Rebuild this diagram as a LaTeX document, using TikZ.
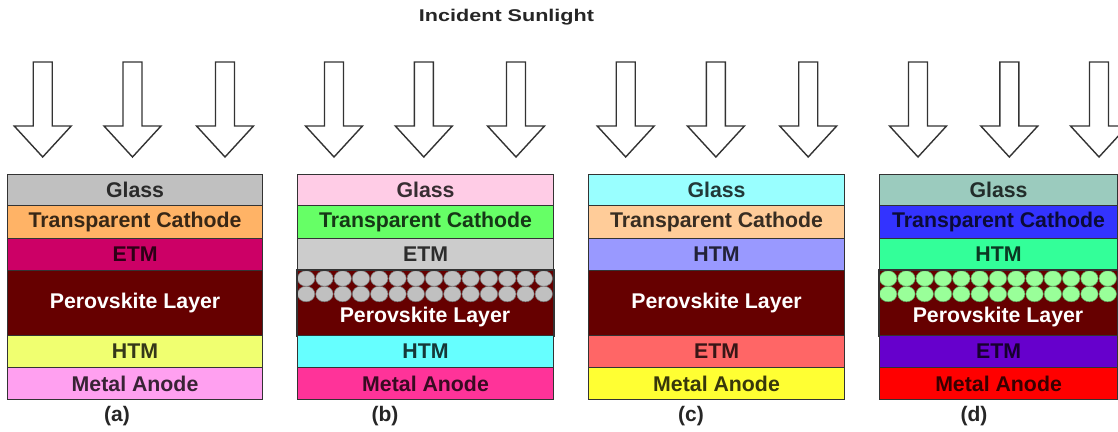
\documentclass[tikz,border=0pt]{standalone}
\usepackage{fontspec}
\setmainfont{Liberation Sans}
\definecolor{linec}{HTML}{333333}
\definecolor{aG}{HTML}{C0C0C0}\definecolor{aT}{HTML}{FFB366}\definecolor{aE}{HTML}{CC0066}
\definecolor{aH}{HTML}{F0FF70}\definecolor{aM}{HTML}{FFA0F0}
\definecolor{bG}{HTML}{FFCCE6}\definecolor{bT}{HTML}{66FF66}\definecolor{bE}{HTML}{CCCCCC}
\definecolor{bH}{HTML}{66FFFF}\definecolor{bM}{HTML}{FF3399}\definecolor{bC}{HTML}{C0C0C0}
\definecolor{cG}{HTML}{99FFFF}\definecolor{cT}{HTML}{FFCC99}\definecolor{cH}{HTML}{9999FF}
\definecolor{cE}{HTML}{FF6666}\definecolor{cM}{HTML}{FFFF33}
\definecolor{dG}{HTML}{9BCBBE}\definecolor{dT}{HTML}{3333FF}\definecolor{dH}{HTML}{33FF99}
\definecolor{dE}{HTML}{6600CC}\definecolor{dM}{HTML}{FF0000}\definecolor{dC}{HTML}{99FF99}
\definecolor{perov}{HTML}{660000}
\tikzset{
  layer/.style={draw=linec, line width=1.1pt, inner sep=0pt, anchor=north west,
    font=\bfseries\fontsize{21.3}{21.3}\selectfont, fill=#1, text=#1!22!black},
  pvk/.style={layer=perov, text=white},
  sunarrow/.style={draw=linec, line width=1.4pt, fill=white, line join=miter},
  grain/.style={fill=#1, draw=#1!60!black, line width=0.5pt},
  caption/.style={font=\bfseries\fontsize{21}{21}\selectfont, text=black!85},
  pvtext/.style={font=\bfseries\fontsize{21.3}{21.3}\selectfont, text=white},
}
\newcommand{\sunarr}[1]{%
  \draw[sunarrow] (#1-9.5,62) -- (#1+9.5,62) -- (#1+9.5,126) -- (#1+28.5,126) -- (#1,157)
    -- (#1-28.5,126) -- (#1-9.5,126) -- cycle;}
\begin{document}
\begin{tikzpicture}[x=1pt,y=-1pt]
\useasboundingbox (0,0) rectangle (1118,431);
% title
\node[font=\bfseries\fontsize{17}{17}\selectfont, text=black!85] (title) at (506.5,17)
  {\scalebox{1.27}[1]{Incident Sunlight}};
% arrows
\foreach \cx in {42.7,132.5,225,334,423.8,516,625.7,715.9,808.2,918,1009.3,1099} {\sunarr{\cx}}
% panel (a)
\node[layer=aG, minimum width=255, minimum height=31] (aGl) at (7,174) {Glass};
\node[layer=aT, minimum width=255, minimum height=33] (aTC) at (7,205) {Transparent Cathode};
\node[layer=aE, minimum width=255, minimum height=32] (aET) at (7,238) {ETM};
\node[pvk, minimum width=255, minimum height=65] (aPV) at (7,270) {Perovskite Layer};
\node[layer=aH, minimum width=255, minimum height=32] (aHT) at (7,335) {HTM};
\node[layer=aM, minimum width=255, minimum height=32] (aMA) at (7,367) {Metal Anode};
\node[caption] (la) at (117,416) {(a)};
% panel (b)
\node[layer=bG, minimum width=256, minimum height=31] (bGl) at (297,174) {Glass};
\node[layer=bT, minimum width=256, minimum height=33] (bTC) at (297,205) {Transparent Cathode};
\node[layer=bE, minimum width=256, minimum height=32] (bET) at (297,238) {ETM};
\node[pvk, minimum width=256, minimum height=65] (bPV) at (297,270) {};
\begin{scope}
  \clip (297,270) rectangle (553,335);
  \foreach \i in {0,...,13} {
    \foreach \yy in {278.5,294} {
      \fill[grain=bC] (297+9.14+18.28*\i,\yy) ellipse [x radius=8.7, y radius=7.8];
    }
  }
\end{scope}
\draw[draw=linec, line width=1.1pt] (bPV.north west) rectangle (bPV.south east);
\node[pvtext] (bPT) at (425,317) {Perovskite Layer};
\node[layer=bH, minimum width=256, minimum height=32] (bHT) at (297,335) {HTM};
\node[layer=bM, minimum width=256, minimum height=32] (bMA) at (297,367) {Metal Anode};
\node[caption] (lb) at (385,416) {(b)};
% panel (c)
\node[layer=cG, minimum width=256, minimum height=31] (cGl) at (588,174) {Glass};
\node[layer=cT, minimum width=256, minimum height=33] (cTC) at (588,205) {Transparent Cathode};
\node[layer=cH, minimum width=256, minimum height=32] (cHT) at (588,238) {HTM};
\node[pvk, minimum width=256, minimum height=65] (cPV) at (588,270) {Perovskite Layer};
\node[layer=cE, minimum width=256, minimum height=32] (cET) at (588,335) {ETM};
\node[layer=cM, minimum width=256, minimum height=32] (cMA) at (588,367) {Metal Anode};
\node[caption] (lc) at (691,416) {(c)};
% panel (d)
\node[layer=dG, minimum width=238, minimum height=31] (dGl) at (879,174) {Glass};
\node[layer=dT, minimum width=238, minimum height=33] (dTC) at (879,205) {Transparent Cathode};
\node[layer=dH, minimum width=238, minimum height=32] (dHT) at (879,238) {HTM};
\node[pvk, minimum width=238, minimum height=65] (dPV) at (879,270) {};
\begin{scope}
  \clip (879,270) rectangle (1117,335);
  \foreach \i in {0,...,12} {
    \foreach \yy in {278.5,294} {
      \fill[grain=dC] (879+9.15+18.3*\i,\yy) ellipse [x radius=8.7, y radius=7.8];
    }
  }
\end{scope}
\draw[draw=linec, line width=1.1pt] (dPV.north west) rectangle (dPV.south east);
\node[pvtext] (dPT) at (998,317) {Perovskite Layer};
\node[layer=dE, minimum width=238, minimum height=32] (dET) at (879,335) {ETM};
\node[layer=dM, minimum width=238, minimum height=32] (dMA) at (879,367) {Metal Anode};
\node[caption] (ld) at (974,416) {(d)};
\end{tikzpicture}
\end{document}
